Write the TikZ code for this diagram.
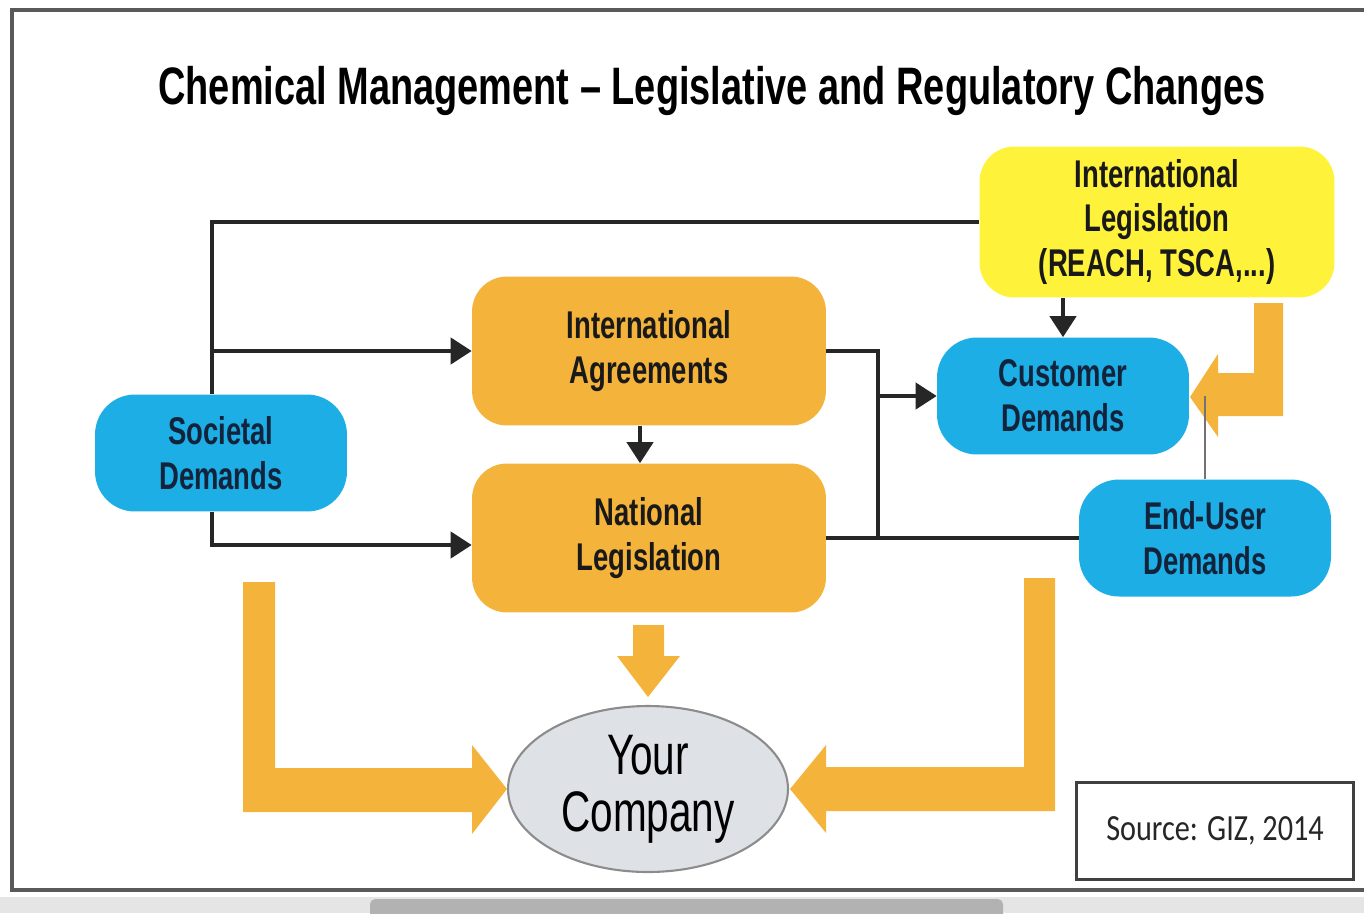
\documentclass[tikz,border=0pt]{standalone}
\usepackage{fontspec}
\usetikzlibrary{arrows.meta,shapes.geometric}

\newfontfamily\narrowfont{Liberation Sans}[FakeStretch=0.71]
\newfontfamily\headfont{Liberation Sans}[FakeStretch=0.72]
\newfontfamily\notefont{Carlito}[FakeStretch=0.82]

\definecolor{legyellow}{HTML}{FFF23A}
\definecolor{demandblue}{HTML}{1CAEE4}
\definecolor{lawgold}{HTML}{F4B43C}
\definecolor{companygray}{HTML}{DEE2E6}
\definecolor{inkblue}{HTML}{14233C}

\tikzset{
    roundbox/.style = {rounded corners = 0.8cm, align = center, inner sep = 0pt,
        font = \narrowfont\bfseries\fontsize{22}{25.6}\selectfont},
    demand/.style = {roundbox, fill = demandblue, text = inkblue,
        minimum width = 5.04cm, minimum height = 2.34cm},
    law/.style = {roundbox, fill = lawgold, text = black!90, rounded corners = 0.7cm,
        minimum width = 7.08cm, minimum height = 2.98cm},
    link/.style = {line width = 2pt, black!85},
    feed/.style = {link, -{Triangle[length = 12pt, width = 15pt]}},
    bigarrow/.style = {fill = lawgold, draw = none},
}

\begin{document}
\begin{tikzpicture}[x = 0.02cm, y = -0.02cm]
    \useasboundingbox (0,0) rectangle (1364,913);
    % window edge and scroll bar
    \fill[black!10] (0,897) rectangle (1364,913);
    \fill[black!30, rounded corners = 3pt] (370,899) rectangle (1003,920);
    \draw[line width = 2.5pt, black!65] (1364,10) -- (12,10) -- (12,890) -- (1364,890);

    \node[font = \headfont\bfseries\fontsize{30}{36}\selectfont, anchor = base] (title) at (712,104)
        {Chemical Management – Legislative and Regulatory Changes};

    % wide arrows into the company
    \fill[bigarrow] (243,582) -- (275,582) -- (275,768) -- (472,768) -- (472,745) -- (507,789)
        -- (472,834) -- (472,812) -- (243,812) -- cycle;
    \fill[bigarrow] (1055,578) -- (1024,578) -- (1024,767) -- (826,767) -- (826,745) -- (790,789)
        -- (826,833) -- (826,811) -- (1055,811) -- cycle;
    \fill[bigarrow] (633,625) -- (664,625) -- (664,656) -- (680,656) -- (648,697) -- (617,656)
        -- (633,656) -- cycle;
    \fill[bigarrow] (1254,303) -- (1283,303) -- (1283,416) -- (1218,416) -- (1218,437) -- (1190,397)
        -- (1218,354) -- (1218,373) -- (1254,373) -- cycle;

    \node[law, fill = legyellow, minimum width = 7.1cm, minimum height = 3.02cm] (intleg) at (1157,222)
        {International\\Legislation\\(REACH, TSCA,...)};
    \node[law] (agree) at (649,351) {International\\Agreements};
    \node[law] (natleg) at (649,538) {National\\Legislation};
    \node[demand] (soc) at (221,453) {Societal\\Demands};
    \node[demand] (cust) at (1063,396) {Customer\\Demands};
    \node[demand] (enduser) at (1205,538) {End-User\\Demands};

    \node[ellipse, draw = black!45, line width = 1.2pt, fill = companygray, inner sep = 0pt,
        minimum width = 5.6cm, minimum height = 3.32cm, align = center,
        font = \narrowfont\fontsize{32.5}{32.4}\selectfont] (company) at (648,789) {Your\\Company};
    \node[draw = black!75, line width = 1.5pt, minimum width = 5.54cm, minimum height = 1.94cm,
        font = \notefont\fontsize{21}{25}\selectfont, text = black!85] (source) at (1215,831)
        {Source: GIZ, 2014};

    % thin connectors
    \coordinate (spine) at ([xshift = -0.18cm]soc.north);
    \coordinate (bus) at (878,538);
    \draw[link] (spine) |- (intleg.west);
    \draw[feed] (spine |- agree.west) -- (agree.west);
    \draw[feed] ([xshift = -0.18cm]soc.south) |- ([yshift = -0.14cm]natleg.west);
    \draw[feed] ([xshift = -0.18cm]agree.south) -- ([xshift = -0.18cm]natleg.north);
    \draw[link] (agree.east) -| (bus);
    \draw[link] (natleg.east) -- (enduser.west);
    \draw[feed] (bus |- cust.west) -- (cust.west);
    \draw[feed] (intleg.south -| cust.north) -- (cust.north);
    \draw[line width = 1pt, black!55] (enduser.north) -- (enduser.north |- cust.east);
\end{tikzpicture}
\end{document}
